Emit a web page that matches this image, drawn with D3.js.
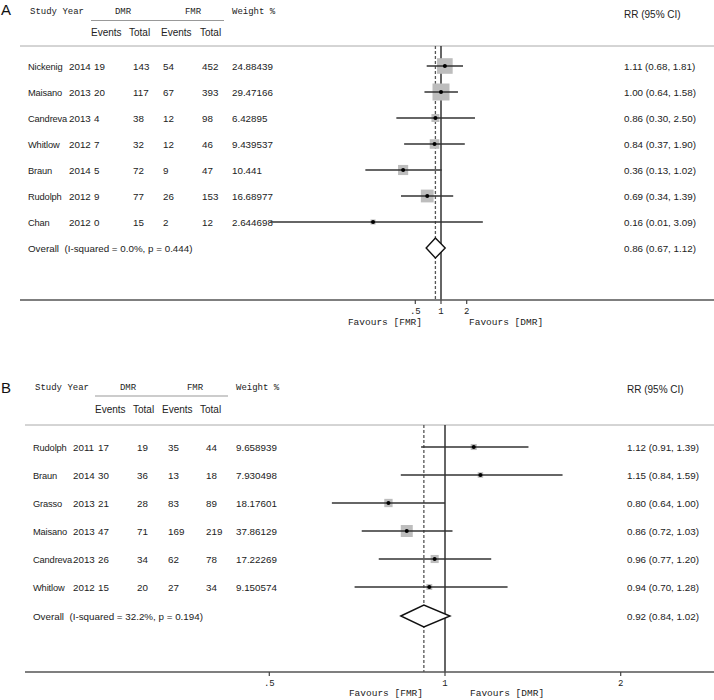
<!DOCTYPE html>
<html><head><meta charset="utf-8">
<script src="https://cdn.jsdelivr.net/npm/d3@7"></script>
<style>html,body{margin:0;padding:0;background:#fff;}svg{display:block;}</style>
</head><body>
<svg id="chart" width="714" height="700"></svg>
<script>
// ---------- Panel A data ----------
const studyA = ["Nickenig","Maisano","Candreva","Whitlow","Braun","Rudolph","Chan"];
const yearA = [2014,2013,2013,2012,2014,2012,2012];
const dmrEventsA = [19,20,4,7,5,9,0];
const dmrTotalA = [143,117,38,32,72,77,15];
const fmrEventsA = [54,67,12,12,9,26,2];
const fmrTotalA = [452,393,98,46,47,153,12];
const weightA = ["24.88439","29.47166","6.42895","9.439537","10.441","16.68977","2.644698"];
const rrA = [1.11,1.00,0.86,0.84,0.36,0.69,0.16];
const loA = [0.68,0.64,0.30,0.37,0.13,0.34,0.01];
const hiA = [1.81,1.58,2.50,1.90,1.02,1.39,3.09];
const overallA = [0.86,0.67,1.12];
const hetA = "Overall  (I-squared = 0.0%, p = 0.444)";

// ---------- Panel B data ----------
const studyB = ["Rudolph","Braun","Grasso","Maisano","Candreva","Whitlow"];
const yearB = [2011,2014,2013,2013,2013,2012];
const dmrEventsB = [17,30,21,47,26,15];
const dmrTotalB = [19,36,28,71,34,20];
const fmrEventsB = [35,13,83,169,62,27];
const fmrTotalB = [44,18,89,219,78,34];
const weightB = ["9.658939","7.930498","18.17601","37.86129","17.22269","9.150574"];
const rrB = [1.12,1.15,0.80,0.86,0.96,0.94];
const loB = [0.91,0.84,0.64,0.72,0.77,0.70];
const hiB = [1.39,1.59,1.00,1.03,1.20,1.28];
const overallB = [0.92,0.84,1.02];
const hetB = "Overall  (I-squared = 32.2%, p = 0.194)";

// ---------- axis ticks ----------
const tickValues = [0.5,1,2];
const tickLabels = [".5","1","2"];
const favourLabels = ["Favours [FMR]","Favours [DMR]"];

const svg = d3.select("#chart");
const MONO = "'Liberation Mono','DejaVu Sans Mono',monospace";
const SANS = "'Liberation Sans',Arial,sans-serif";
const f2 = d3.format(".2f");

function drawPanel(p, d) {
  const g = svg.append("g");
  const x = d3.scaleLog().domain([0.5,2]).range(p.xr);
  // panel letter
  g.append("text").attr("x",p.letterX).attr("y",p.letterY).text(p.letter)
    .attr("font-family",SANS).attr("font-size",15).attr("fill","#111");
  // header (monospace)
  const hdr = (t,xx,yy,anchor) => g.append("text").attr("x",xx).attr("y",yy).text(t)
    .attr("font-family",MONO).attr("font-size",9).attr("fill","#222")
    .attr("text-anchor",anchor||"start").style("white-space","pre");
  hdr("Study Year",p.cols.name+2,p.hY);
  hdr("DMR",p.dmrC,p.hY,"middle");
  hdr("FMR",p.fmrC,p.hY,"middle");
  hdr("Weight %",p.cols.w,p.hY);
  g.append("line").attr("x1",p.ulX[0]).attr("x2",p.ulX[1]).attr("y1",p.ulY).attr("y2",p.ulY)
    .attr("stroke","#999").attr("stroke-width",1);
  const sub = (t,xx) => g.append("text").attr("x",xx).attr("y",p.h2Y).text(t)
    .attr("font-family",SANS).attr("font-size",10).attr("fill","#222");
  sub("Events",p.sub[0]); sub("Total",p.sub[1]); sub("Events",p.sub[2]); sub("Total",p.sub[3]);
  g.append("text").attr("x",p.cols.rr).attr("y",p.rrHY).text("RR (95% CI)")
    .attr("font-family",SANS).attr("font-size",10).attr("fill","#222");
  // top line
  g.append("line").attr("x1",p.lineX0).attr("x2",714).attr("y1",p.topY).attr("y2",p.topY)
    .attr("stroke","#aaa").attr("stroke-width",1);
  // vertical lines
  g.append("line").attr("x1",x(1)).attr("x2",x(1)).attr("y1",p.topY).attr("y2",p.axisY)
    .attr("stroke","#333").attr("stroke-width",1.5);
  g.append("line").attr("x1",x(d.overall[0])).attr("x2",x(d.overall[0])).attr("y1",p.topY).attr("y2",p.axisY)
    .attr("stroke","#555").attr("stroke-width",1.3).attr("stroke-dasharray","3,2");
  // rows
  const n = d.study.length;
  for (let i=0;i<n;i++){
    const y = p.row0 + i*p.rowH;
    const ty = y+3.5;
    const t = (v,xx,fs) => g.append("text").attr("x",xx).attr("y",ty).text(v)
      .attr("font-family",SANS).attr("font-size",fs||9.8).attr("fill","#222");
    t(d.study[i],p.cols.name,9.3).attr("letter-spacing",-0.15);
    t(d.year[i],p.cols.year);
    t(d.de[i],p.cols.de); t(d.dt[i],p.cols.dt); t(d.fe[i],p.cols.fe); t(d.ft[i],p.cols.ft);
    t(d.w[i],p.cols.w);
    t(`${f2(d.rr[i])} (${f2(d.lo[i])}, ${f2(d.hi[i])})`,p.cols.rr);
    const s = p.boxK*Math.sqrt(+d.w[i]);
    g.append("rect").attr("x",x(d.rr[i])-s/2).attr("y",y-s/2).attr("width",s).attr("height",s)
      .attr("fill","#bdbdbd");
    g.append("line").attr("x1",x(d.lo[i])).attr("x2",x(d.hi[i])).attr("y1",y).attr("y2",y)
      .attr("stroke","#333").attr("stroke-width",1.5);
    g.append("circle").attr("cx",x(d.rr[i])).attr("cy",y).attr("r",2).attr("fill","#000");
  }
  // overall
  const oy = p.overY;
  g.append("text").attr("x",p.cols.name).attr("y",oy+3.5).text(d.het).style("white-space","pre")
    .attr("font-family",SANS).attr("font-size",9.8).attr("fill","#222");
  g.append("text").attr("x",p.cols.rr).attr("y",oy+3.5)
    .text(`${f2(d.overall[0])} (${f2(d.overall[1])}, ${f2(d.overall[2])})`)
    .attr("font-family",SANS).attr("font-size",9.8).attr("fill","#222");
  const o = d.overall;
  g.append("path").attr("d",`M${x(o[1])},${oy} L${x(o[0])},${oy-p.dH} L${x(o[2])},${oy} L${x(o[0])},${oy+p.dH} Z`)
    .attr("fill","#fff").attr("stroke","#111").attr("stroke-width",1.4);
  // axis
  g.append("line").attr("x1",p.lineX0).attr("x2",714).attr("y1",p.axisY).attr("y2",p.axisY)
    .attr("stroke","#555").attr("stroke-width",1.5);
  tickValues.forEach((v,k)=>{
    g.append("line").attr("x1",x(v)).attr("x2",x(v)).attr("y1",p.axisY).attr("y2",p.axisY+4)
      .attr("stroke","#444").attr("stroke-width",1.2);
    g.append("text").attr("x",x(v)).attr("y",p.tickY).text(tickLabels[k])
      .attr("text-anchor","middle").attr("font-family",MONO).attr("font-size",9).attr("fill","#222");
  });
  g.append("text").attr("x",p.favL).attr("y",p.favY).text(favourLabels[0]).attr("text-anchor","end")
    .attr("font-family",MONO).attr("font-size",9.5).attr("fill","#222");
  g.append("text").attr("x",p.favR).attr("y",p.favY).text(favourLabels[1])
    .attr("font-family",MONO).attr("font-size",9.5).attr("fill","#222");
}

drawPanel({
  letter:"A", letterX:1, letterY:15, xr:[415.3,466.7],
  hY:14, dmrC:123, fmrC:193, ulX:[91,224], ulY:20.5, h2Y:36, sub:[91,129,161,200], rrHY:18,
  topY:46, lineX0:20, axisY:300,
  cols:{name:28,year:69,de:94,dt:133,fe:163,ft:202,w:232,rr:624},
  row0:66, rowH:26, overY:248, boxK:3.13, dH:10,
  tickY:314, favY:325, favL:422, favR:469
},{study:studyA,year:yearA,de:dmrEventsA,dt:dmrTotalA,fe:fmrEventsA,ft:fmrTotalA,w:weightA,
   rr:rrA,lo:loA,hi:hiA,overall:overallA,het:hetA});

drawPanel({
  letter:"B", letterX:1, letterY:393, xr:[269.3,620.7],
  hY:390, dmrC:128, fmrC:195, ulX:[95,228], ulY:396, h2Y:413, sub:[95,133,162,200], rrHY:393,
  topY:425, lineX0:25, axisY:672,
  cols:{name:33,year:73,de:98,dt:137,fe:168,ft:206,w:236,rr:627},
  row0:447, rowH:28, overY:616, boxK:1.95, dH:11,
  tickY:686, favY:696, favL:423, favR:470
},{study:studyB,year:yearB,de:dmrEventsB,dt:dmrTotalB,fe:fmrEventsB,ft:fmrTotalB,w:weightB,
   rr:rrB,lo:loB,hi:hiB,overall:overallB,het:hetB});
</script>
</body></html>
